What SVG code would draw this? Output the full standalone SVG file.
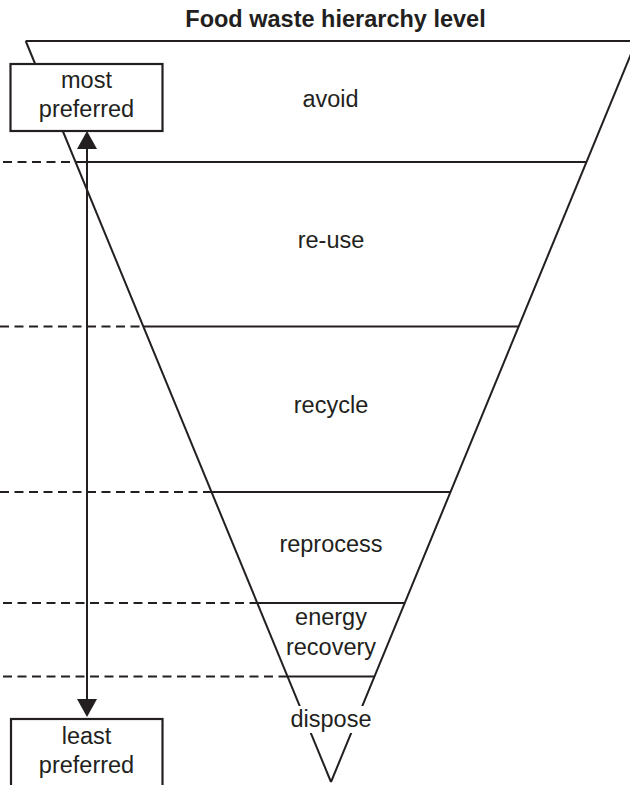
<svg xmlns="http://www.w3.org/2000/svg" width="630" height="785" viewBox="0 0 630 785">
<style>
  .t { font-family: "Liberation Sans", Arial, sans-serif; font-size: 23.5px; fill: #231f20; text-anchor: middle; }
  .title { font-weight: bold; }
  .edge { stroke: #231f20; stroke-width: 2; fill: none; }
  .dash { stroke: #231f20; stroke-width: 2; fill: none; stroke-dasharray: 9 5.5; }
  .box { stroke: #231f20; stroke-width: 2.2; fill: #ffffff; }
</style>
<defs>
  <marker id="ah" markerUnits="userSpaceOnUse" markerWidth="18" markerHeight="20" refX="0" refY="10" orient="auto-start-reverse" viewBox="0 0 18 20">
    <path d="M0,0 L18,10 L0,20 z" fill="#231f20"/>
  </marker>
</defs>
<rect width="630" height="785" fill="#ffffff"/>
<text class="t title" x="335.5" y="26.7">Food waste hierarchy level</text>
<g id="funnel">
  <line class="edge" x1="25.7" y1="41" x2="640" y2="41"/>
  <line class="edge" x1="25.7" y1="41" x2="331" y2="782"/>
  <line class="edge" x1="331" y1="782" x2="636.3" y2="41"/>
</g>
<g id="level-dividers">
  <line class="dash" x1="3" y1="162" x2="75.6" y2="162"/>
  <line class="edge" x1="75.6" y1="162" x2="586.4" y2="162"/>
  <line class="dash" x1="0" y1="326.5" x2="143.3" y2="326.5"/>
  <line class="edge" x1="143.3" y1="326.5" x2="518.7" y2="326.5"/>
  <line class="dash" x1="0" y1="492" x2="211.5" y2="492"/>
  <line class="edge" x1="211.5" y1="492" x2="450.5" y2="492"/>
  <line class="dash" x1="3" y1="603" x2="257.3" y2="603"/>
  <line class="edge" x1="257.3" y1="603" x2="404.7" y2="603"/>
  <line class="dash" x1="3" y1="676.5" x2="287.5" y2="676.5"/>
  <line class="edge" x1="287.5" y1="676.5" x2="374.5" y2="676.5"/>
</g>
<g id="avoid"><text class="t" x="330.5" y="106.7">avoid</text></g>
<g id="reuse"><text class="t" x="331" y="248.3">re-use</text></g>
<g id="recycle"><text class="t" x="331" y="413.3">recycle</text></g>
<g id="reprocess"><text class="t" x="331" y="552.3">reprocess</text></g>
<g id="energy-recovery">
  <text class="t" x="331" y="625">energy</text>
  <text class="t" x="331" y="655">recovery</text>
</g>
<g id="dispose">
  <rect x="288" y="706" width="86" height="27" fill="#ffffff"/>
  <text class="t" x="331" y="726.7">dispose</text>
</g>
<g id="connectors">
  <line class="edge" x1="87" y1="149" x2="87" y2="699" marker-start="url(#ah)" marker-end="url(#ah)"/>
</g>
<g id="most-preferred">
  <rect class="box" x="10.5" y="64" width="152" height="67"/>
  <text class="t" x="86.5" y="88.3">most</text>
  <text class="t" x="86.5" y="116.7">preferred</text>
</g>
<g id="least-preferred">
  <rect class="box" x="11" y="719" width="151.5" height="90"/>
  <text class="t" x="86.5" y="744.3">least</text>
  <text class="t" x="86.5" y="772.7">preferred</text>
</g>
</svg>
